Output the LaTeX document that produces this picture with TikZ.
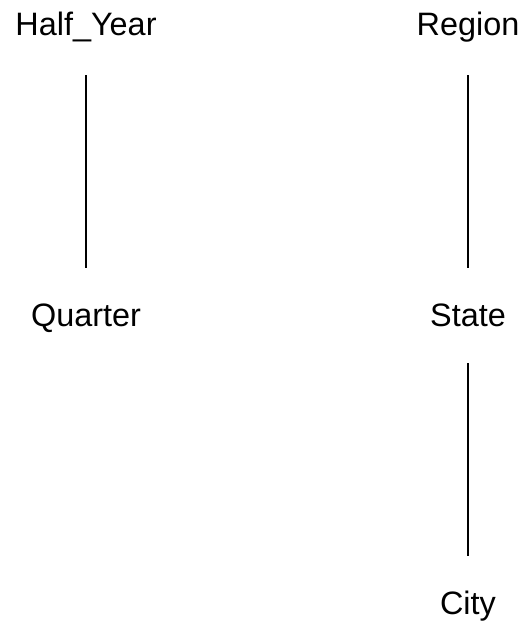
\documentclass[tikz,border=0pt]{standalone}
\usepackage{fontspec}
\setmainfont{Liberation Sans}
\usepackage{tikz}

\begin{document}
\begin{tikzpicture}[x=0.75pt,y=0.75pt,yscale=-1,xscale=1,
  level/.style={anchor=base,inner sep=0pt,text height=17pt,text depth=0pt,font=\fontsize{24.3}{29}\selectfont},
  link/.style={line width=1pt}]
%set diagram size
\useasboundingbox (0,0) rectangle (521,621);

% Text Node
\node [level] (halfyear) at (86,35) {Half\_Year};
% Text Node
\node [level] (region) at (468,35) {Region};
% Text Node
\node [level] (quarter) at (86,326) {Quarter};
% Text Node
\node [level] (state) at (468,326) {State};
% Text Node
\node [level] (city) at (468,614) {City};

%Straight Lines
\draw [link,shorten <=30pt,shorten >=26pt] (halfyear.south) -- (quarter.north);
%Straight Lines
\draw [link,shorten <=30pt,shorten >=26pt] (region.south) -- (state.north);
%Straight Lines
\draw [link,shorten <=27.75pt,shorten >=26.6pt] (state.south) -- (city.north);

\end{tikzpicture}
\end{document}
